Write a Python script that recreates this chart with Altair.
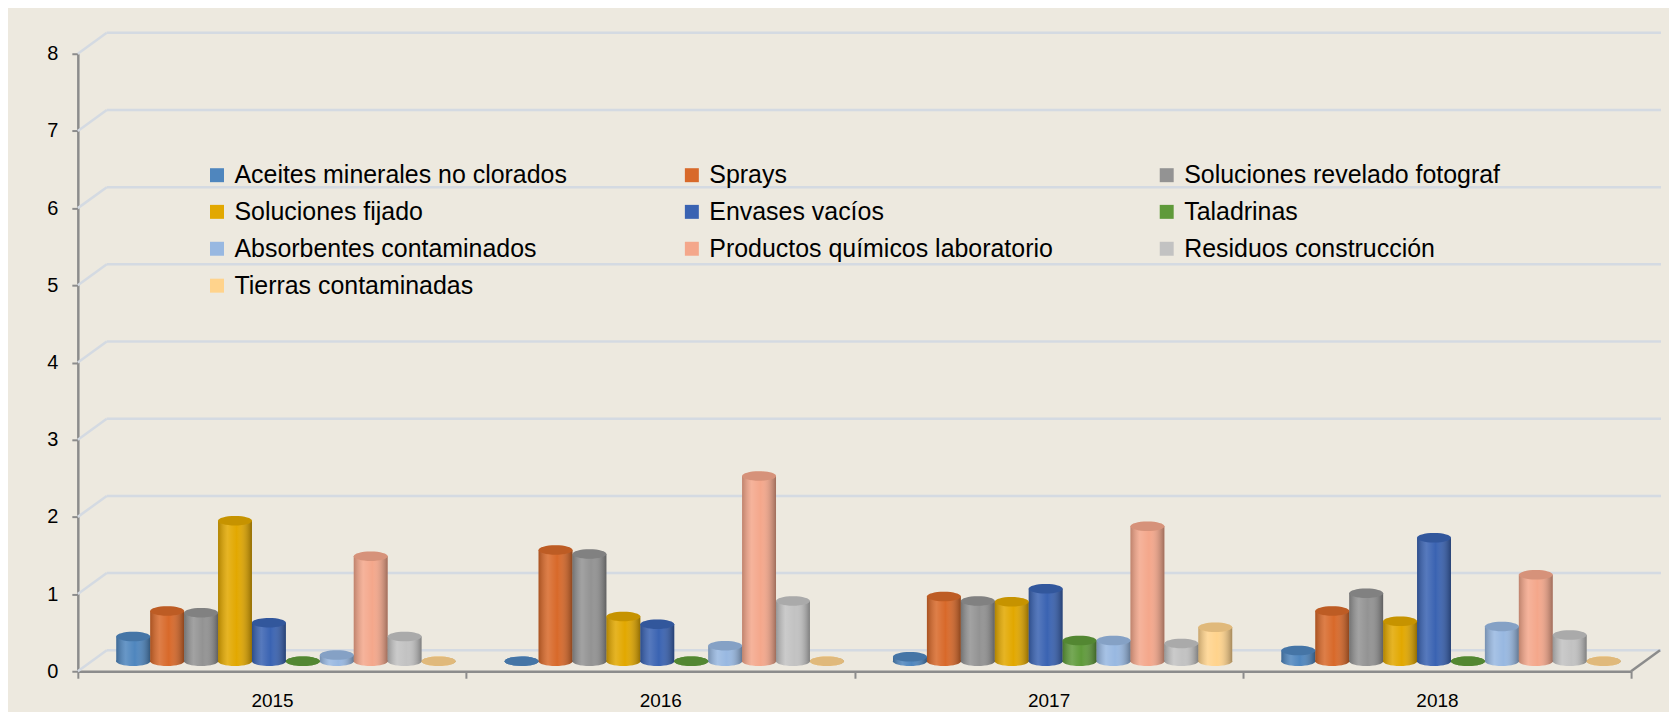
import altair as alt
import pandas as pd

# ---------------- data ----------------
years = ["2015", "2016", "2017", "2018"]
series = [
    "Aceites minerales no clorados",
    "Sprays",
    "Soluciones revelado fotograf",
    "Soluciones fijado",
    "Envases vacíos",
    "Taladrinas",
    "Absorbentes contaminados",
    "Productos químicos laboratorio",
    "Residuos construcción",
    "Tierras contaminadas",
]
colors = ["#4F86BE", "#D8692A", "#939393", "#E2A800", "#3A63B2",
          "#5F9A3A", "#98B8E1", "#F4A78B", "#C2C2C2", "#FFD38C"]

v2015 = [0.32, 0.65, 0.63, 1.82, 0.50, 0.00, 0.08, 1.36, 0.32, 0.00]
v2016 = [0.00, 1.44, 1.39, 0.58, 0.48, 0.00, 0.20, 2.40, 0.78, 0.00]
v2017 = [0.06, 0.84, 0.78, 0.77, 0.94, 0.27, 0.27, 1.75, 0.23, 0.44]
v2018 = [0.14, 0.65, 0.88, 0.52, 1.60, 0.00, 0.45, 1.12, 0.34, 0.00]
y_ticks = [0, 1, 2, 3, 4, 5, 6, 7, 8]

rows = []
for yr, vals in zip(years, [v2015, v2016, v2017, v2018]):
    for s, v in zip(series, vals):
        rows.append({"year": yr, "series": s, "value": v, "base0": 0})
df = pd.DataFrame(rows)
grid_df = pd.DataFrame({"g": y_ticks})
year_df = pd.DataFrame({"year": years})

# ---------------- layout / style ----------------
W, H = 1557, 619
SHIFT = 14      # horizontal depth shift of the bars
LIFT = 10       # vertical depth shift of the bars
DX, DY = 29, 21  # back-wall offset
AXIS_GREY = "#8C8C8C"
GRID = "#D4DAE2"
BG = "#EDE9DF"
FONT = "Liberation Sans, Arial, sans-serif"

y_scale = alt.Scale(domain=[0, 8], nice=False, zero=True)
y_axis = alt.Axis(values=y_ticks, grid=False, title=None, format="d",
                  domainColor=AXIS_GREY, domainWidth=2.5,
                  tickColor=AXIS_GREY, tickWidth=2, tickSize=6,
                  labelFont=FONT, labelFontSize=20, labelColor="black",
                  labelPadding=14)

x_bar = alt.X("year:N", sort=years,
              scale=alt.Scale(domain=years, range=[SHIFT, W + SHIFT],
                              paddingInner=0.1265, paddingOuter=0.063),
              axis=None)
xo = alt.XOffset("series:N", sort=series,
                 scale=alt.Scale(domain=series, paddingInner=0, paddingOuter=0))
legend = alt.Legend(orient="none", legendX=127, legendY=109, columns=3,
                    direction="horizontal",
                    title=None, symbolType="square", symbolSize=196,
                    symbolStrokeWidth=0, symbolOpacity=1,
                    labelFont=FONT, labelFontSize=25,
                    labelColor="black", labelOffset=5, labelLimit=600,
                    rowPadding=11, columnPadding=101, gridAlign="all")
col = alt.Color("series:N", sort=series,
                scale=alt.Scale(domain=series, range=colors), legend=legend)

y_val = alt.Y("value:Q", scale=y_scale, axis=y_axis)
y_base = alt.Y("base0:Q", scale=y_scale, axis=y_axis)

ELLIPSE = "M-1,0 A1,0.28 0 1,0 1,0 A1,0.28 0 1,0 -1,0 Z"
SIZE = 34 * 34

body_grad = alt.Gradient(
    gradient="linear", x1=0, x2=1, y1=0, y2=0,
    stops=[alt.GradientStop(offset=0, color="rgba(0,0,0,0.22)"),
           alt.GradientStop(offset=0.28, color="rgba(255,255,255,0.14)"),
           alt.GradientStop(offset=0.55, color="rgba(255,255,255,0.0)"),
           alt.GradientStop(offset=1, color="rgba(0,0,0,0.35)")])

base = alt.Chart(df)

bottom = base.mark_point(shape=ELLIPSE, size=SIZE, filled=True, opacity=1,
                         yOffset=-LIFT).encode(x=x_bar, xOffset=xo, y=y_base, color=col)
bottom_sh = base.mark_point(shape=ELLIPSE, size=SIZE, filled=True, opacity=1,
                            yOffset=-LIFT, color=body_grad).encode(x=x_bar, xOffset=xo, y=y_base)
bars = base.mark_bar(yOffset=-LIFT, y2Offset=-LIFT).encode(
    x=x_bar, xOffset=xo, y=y_val, y2=alt.Y2("base0:Q"), color=col)
bars_sh = base.mark_bar(yOffset=-LIFT, y2Offset=-LIFT, color=body_grad).encode(
    x=x_bar, xOffset=xo, y=y_val, y2=alt.Y2("base0:Q"))
cap = base.mark_point(shape=ELLIPSE, size=SIZE, filled=True, opacity=1,
                      yOffset=-LIFT).encode(x=x_bar, xOffset=xo, y=y_val, color=col)
cap_sh = base.mark_point(shape=ELLIPSE, size=SIZE, filled=True, opacity=1,
                         yOffset=-LIFT, color="rgba(0,0,0,0.12)").encode(
    x=x_bar, xOffset=xo, y=y_val)

bar_group = alt.layer(bottom, bottom_sh, bars, bars_sh, cap, cap_sh)

y_grid = alt.Y("g:Q", scale=y_scale, axis=y_axis)
back_lines = alt.Chart(grid_df).mark_rule(color=GRID, strokeWidth=2.5, yOffset=-DY).encode(
    y=y_grid, x=alt.value(DX), x2=alt.value(W + DX + 1))
side_lines = alt.Chart(grid_df).mark_rule(color=GRID, strokeWidth=2.5, y2Offset=-DY).encode(
    y=y_grid, y2=alt.Y2("g:Q"), x=alt.value(0), x2=alt.value(DX))
floor_edge = alt.Chart(grid_df).transform_filter("datum.g == 0").mark_rule(
    color=AXIS_GREY, strokeWidth=2.5, y2Offset=-DY).encode(
    y=y_grid, y2=alt.Y2("g:Q"), x=alt.value(W), x2=alt.value(W + DX))

x_axis_layer = alt.Chart(year_df).mark_rule(opacity=0).encode(
    x=alt.X("year:N", sort=years,
            scale=alt.Scale(domain=years, paddingInner=0, paddingOuter=0),
            axis=alt.Axis(title=None, tickBand="extent", labelAngle=0,
                          domainColor=AXIS_GREY, domainWidth=2.5,
                          tickColor=AXIS_GREY, tickWidth=2, tickSize=7,
                          labelFont=FONT, labelFontSize=19,
                          labelColor="black", labelPadding=13)))

chart = alt.layer(back_lines, side_lines, floor_edge, x_axis_layer, bar_group).resolve_scale(
    x="independent"
).properties(
    width=W, height=H,
    autosize=alt.AutoSizeParams(type="none"),
    padding={"left": 70, "top": 45, "right": 38, "bottom": 40},
).configure(background=BG).configure_view(stroke=None)

chart.save("out.html", embed_options={"renderer": "svg", "actions": False})
